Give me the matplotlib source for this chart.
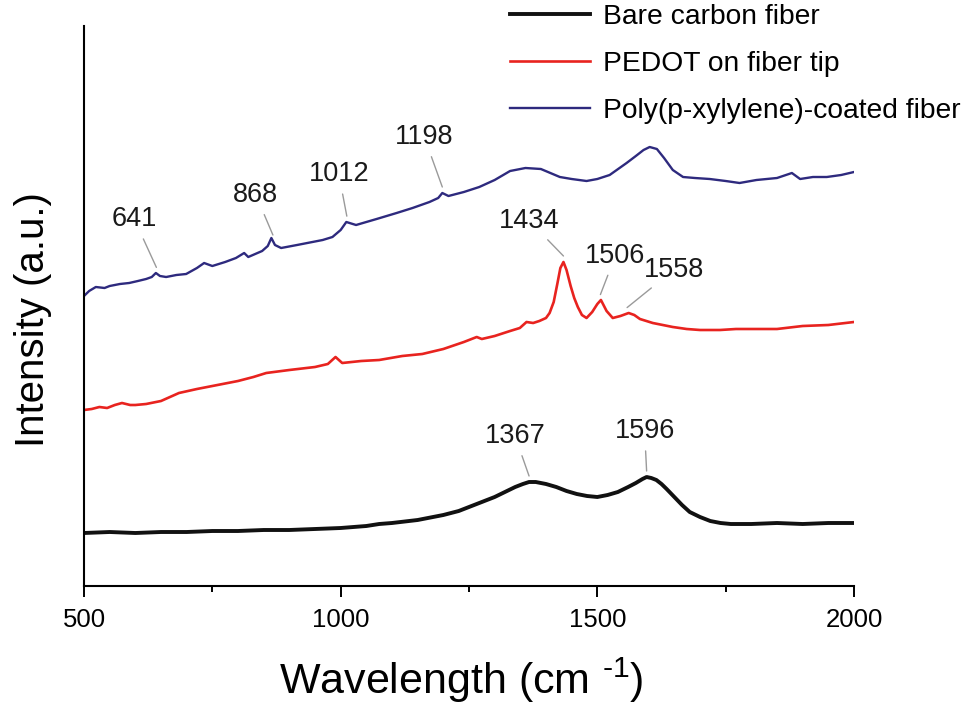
import numpy as np
import matplotlib
matplotlib.use("Agg")
import matplotlib.pyplot as plt

plt.rcParams['font.family'] = ['Liberation Sans', 'DejaVu Sans']
plt.rcParams['mathtext.fontset'] = 'custom'
plt.rcParams['mathtext.rm'] = 'Liberation Sans'
plt.rcParams['mathtext.it'] = 'Liberation Sans'

# Raman spectra (intensity in arbitrary units)
bare_x = [500, 550, 600, 650, 700, 750, 800, 850, 900, 950, 1000, 1050, 1075, 1100,
          1150, 1200, 1230, 1250, 1275, 1300, 1320, 1340, 1355, 1367, 1380, 1400,
          1420, 1440, 1460, 1480, 1500, 1520, 1540, 1560, 1575, 1588, 1596, 1605,
          1615, 1625, 1635, 1650, 1665, 1680, 1700, 1720, 1740, 1760, 1800, 1850,
          1900, 1950, 2000]
bare_y = [53, 54, 53, 54, 54, 55, 55, 56, 56, 57, 58, 60, 62, 63,
          66, 71, 75, 79, 84, 89, 94, 99, 102, 104, 104, 102,
          99, 95, 92, 90, 89, 91, 94, 99, 103, 107, 109, 108,
          106, 102, 97, 89, 81, 74, 69, 65, 63, 62, 62, 63,
          62, 63, 63]

pedot_x = [500, 515, 530, 545, 560, 574, 590, 600, 621, 650, 685, 720, 760, 800,
           830, 855, 900, 950, 975, 990, 1003, 1040, 1075, 1120, 1159, 1200, 1240,
           1265, 1275, 1300, 1330, 1349, 1362, 1375, 1387, 1400, 1407, 1415, 1422,
           1428, 1434, 1440, 1448, 1455, 1462, 1470, 1479, 1490, 1500, 1507, 1512,
           1518, 1530, 1545, 1561, 1572, 1583, 1608, 1647, 1674, 1700, 1739, 1770,
           1800, 1850, 1900, 1950, 2000]
pedot_y = [176, 177, 179, 178, 181, 183, 181, 181, 182, 185, 193, 197, 201, 205,
           209, 213, 216, 219, 222, 229, 223, 225, 226, 230, 232, 237, 244,
           249, 247, 250, 255, 258, 264, 263, 265, 268, 273, 284, 302,
           318, 324, 316, 300, 288, 279, 271, 268, 274, 282, 286, 281,
           275, 268, 270, 273, 271, 267, 263, 259, 257, 256, 256, 257,
           257, 257, 260, 261, 264]

ppx_x = [500, 510, 523, 540, 550, 570, 588, 605, 621, 632, 640, 648, 660, 680,
         699, 720, 734, 750, 775, 796, 812, 820, 847, 858, 865, 872, 884, 915,
         945, 965, 984, 1000, 1011, 1030, 1070, 1109, 1140, 1173, 1190, 1198, 1210,
         1240, 1270, 1300, 1330, 1360, 1390, 1427, 1450, 1479, 1500, 1524, 1557,
         1575, 1590, 1602, 1616, 1630, 1647, 1667, 1690, 1719, 1750, 1777, 1810,
         1850, 1879, 1895, 1920, 1947, 1975, 2000]
ppx_y = [290, 295, 299, 298, 300, 302, 303, 305, 307, 309, 313, 310, 309, 311,
         312, 318, 323, 320, 324, 328, 333, 329, 335, 340, 348, 341, 338, 341,
         344, 346, 349, 356, 364, 361, 367, 373, 378, 384, 388, 393, 390,
         394, 399, 406, 415, 418, 417, 409, 407, 405, 407, 411, 423,
         430, 436, 439, 437, 428, 416, 409, 408, 407, 405, 403, 406,
         408, 413, 407, 409, 409, 411, 414]

# peak labels: (curve, wavenumber, text offset in px)
peaks_ppx = [641, 868, 1012, 1198]
peaks_pedot = [1434, 1506, 1558]
peaks_bare = [1367, 1596]
offsets = {641: (-22, 48), 868: (-17, 40), 1012: (-8, 42), 1198: (-18, 50),
           1434: (-34, 35), 1506: (15, 39), 1558: (47, 38),
           1367: (-14, 40), 1596: (-2, 40)}

fig = plt.figure(figsize=(9.73, 7.08), dpi=100)
ax = fig.add_axes([84 / 973, 1 - 586 / 708, 770 / 973, 560 / 708])

ax.plot(bare_x, bare_y, color='#111111', lw=2.8, label='Bare carbon fiber')
ax.plot(pedot_x, pedot_y, color='#e8231f', lw=1.9, label='PEDOT on fiber tip')
ax.plot(ppx_x, ppx_y, color='#2e2a7e', lw=1.7, label='Poly(p-xylylene)-coated fiber')

for px_list, cx, cy in [(peaks_ppx, ppx_x, ppx_y), (peaks_pedot, pedot_x, pedot_y),
                        (peaks_bare, bare_x, bare_y)]:
    for p in px_list:
        yp = np.interp(p, cx, cy) + 6
        dx, dy = offsets[p]
        ax.annotate(str(p), xy=(p, yp), xytext=(dx * 0.72, dy * 0.72),
                    textcoords='offset points', ha='center', va='center',
                    fontsize=19.5, color='#1a1a1a',
                    arrowprops=dict(arrowstyle='-', color='#9a9a9a', lw=1.0,
                                    shrinkA=3, shrinkB=0))

ax.set_xlim(500, 2000)
ax.set_ylim(0, 560)
ax.set_xticks([500, 1000, 1500, 2000])
ax.set_xticks([750, 1250, 1750], minor=True)
ax.set_yticks([])
ax.tick_params(axis='x', which='major', direction='out', length=8, width=1.4,
               labelsize=18.5, pad=8)
ax.tick_params(axis='x', which='minor', direction='out', length=4.5, width=1.4)
for s in ['top', 'right']:
    ax.spines[s].set_visible(False)
for s in ['left', 'bottom']:
    ax.spines[s].set_linewidth(1.5)

ax.set_xlabel(r'Wavelength (cm $^{\text{-1}}$)', fontsize=31)
ax.xaxis.set_label_coords(0.49, -0.125)
ax.set_ylabel('Intensity (a.u.)', fontsize=29)
ax.yaxis.set_label_coords(-0.042, 0.475)

fig.legend(loc='upper left', bbox_to_anchor=(510 / 973, 1 - 4 / 708), frameon=False,
           fontsize=20.3, handlelength=2.85, handletextpad=0.45, labelspacing=0.75,
           borderpad=0, borderaxespad=0)

fig.savefig('out.png', dpi=100)
